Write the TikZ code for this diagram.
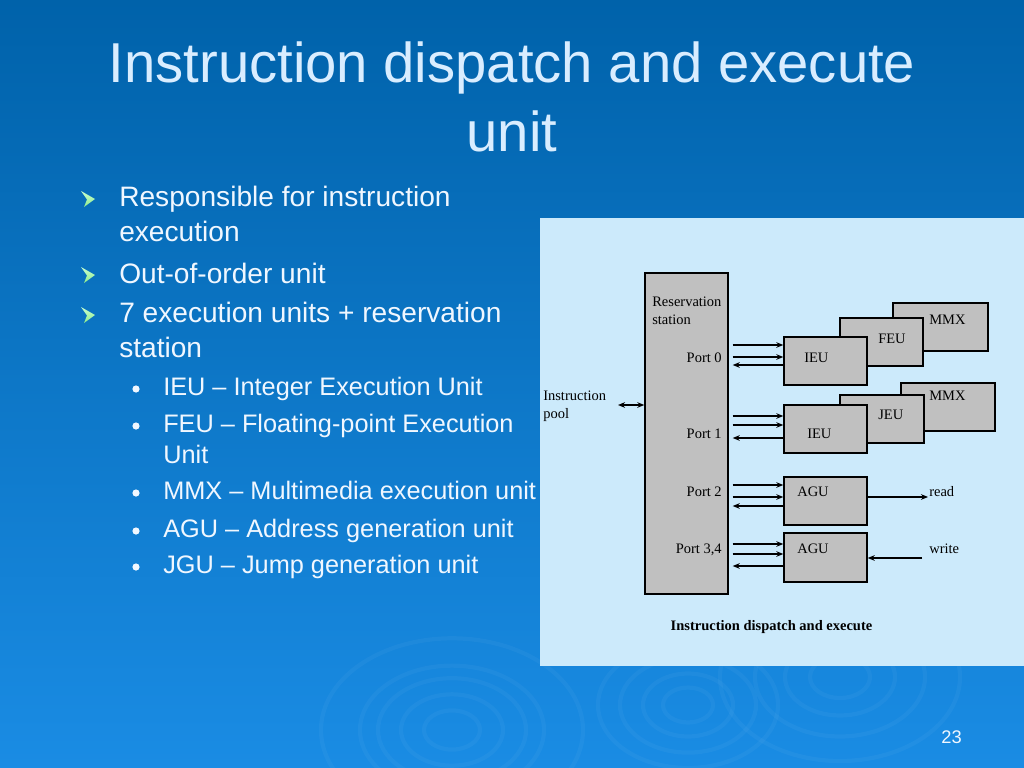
\documentclass[tikz,border=0pt]{standalone}
\usepackage{fontspec}
\setmainfont{Liberation Serif}
\newfontfamily\slidefont{Liberation Sans}
\usepackage{tikz}
\usetikzlibrary{arrows.meta, calc, positioning}
\usepackage{xcolor}
\definecolor{slidetop}{HTML}{0062AA}
\definecolor{slidebottom}{HTML}{1A8CE4}
\definecolor{panelblue}{HTML}{CCEAFB}
\definecolor{unitgrey}{HTML}{C0C0C0}
\definecolor{titleblue}{HTML}{D9EDFF}
\definecolor{bullettext}{HTML}{F0F7FF}
\definecolor{bulletgreen}{HTML}{8FEB8A}
\definecolor{bulletlight}{HTML}{C8FFD0}

\begin{document}
\begin{tikzpicture}[x=0.025cm, y=-0.025cm]
        \tikzstyle{unit}=[draw, fill=unitgrey, line width=1pt, minimum width=2.075cm, minimum height=1.2cm, inner sep=0pt]
        \tikzstyle{lbl}=[font=\fontsize{10.3}{12.8}\selectfont, inner sep=0pt, anchor=base west]
        \tikzstyle{arrow}=[-{Stealth[length=5pt,width=4pt]}, line width=1pt]
        \tikzstyle{item}=[font=\slidefont\fontsize{20}{24.2}\selectfont, text=bullettext, inner sep=0pt, anchor=base west, align=left]
        \tikzstyle{subitem}=[font=\slidefont\fontsize{18}{22}\selectfont, text=bullettext, inner sep=0pt, anchor=base west, align=left]
        \tikzstyle{chevron}=[top color=bulletlight, bottom color=bulletgreen, draw=none]
        \tikzstyle{dot}=[circle, fill=bullettext, minimum size=0.18cm, inner sep=0pt]

        \useasboundingbox (0,0) rectangle (1024,768);
        \shade[top color=slidetop, bottom color=slidebottom] (0,0) rectangle (1024,768);

        % ripples
        \foreach \r in {28,51,74,92,131} {
            \draw[white, opacity=0.035, line width=3pt] (452,730) ellipse [x radius=\r, y radius=0.7*\r];
        }
        \foreach \r in {25,45,68,90} {
            \draw[white, opacity=0.035, line width=3pt] (688,705) ellipse [x radius=\r, y radius=0.7*\r];
        }
        \foreach \r in {30,55,85,120} {
            \draw[white, opacity=0.035, line width=3pt] (840,677) ellipse [x radius=\r, y radius=0.7*\r];
        }

        \node[font=\slidefont\fontsize{40}{48}\selectfont, text=titleblue, anchor=base] (title1) at (512,83) {Instruction dispatch and execute};
        \node[font=\slidefont\fontsize{40}{48}\selectfont, text=titleblue, anchor=base] (title2) at (512,151) {unit};

        % bullets (multi-line nodes sit on their last line)
        \foreach \yb in {207,283,323} {
            \shade[chevron] (81,{\yb-16}) -- (95,{\yb-8}) -- (84,\yb) -- (87,{\yb-7.5}) -- cycle;
        }
        \node[item] (i1) at (119,241) {Responsible for instruction\\execution};
        \node[item] (i2) at (119,283) {Out-of-order unit};
        \node[item] (i3) at (119,357) {7 execution units + reservation\\station};

        \node[dot] (d1) at (136,389) {};
        \node[dot] (d2) at (136,426) {};
        \node[dot] (d3) at (136,493) {};
        \node[dot] (d4) at (136,531) {};
        \node[dot] (d5) at (136,567) {};
        \node[subitem] (s1) at (163,395) {IEU – Integer Execution Unit};
        \node[subitem] (s2) at (163,463) {FEU – Floating-point Execution\\Unit};
        \node[subitem] (s3) at (163,499) {MMX – Multimedia execution unit};
        \node[subitem] (s4) at (163,537) {AGU – Address generation unit};
        \node[subitem] (s5) at (163,573) {JGU – Jump generation unit};

        \node[font=\slidefont\fontsize{13}{13}\selectfont, text=bullettext, inner sep=0pt, anchor=base east] (page) at (962,743) {23};

        % figure panel
        \node[fill=panelblue, minimum width=12.1cm, minimum height=11.2cm, inner sep=0pt] (panel) at (782,442) {};

        \node[unit, minimum height=8.025cm] (rs) at (686.5,433.5) {};
        \node[unit, minimum width=2.375cm] (mmxA) at (940.5,327) {};
        \node[unit] (feu) at (881.5,342) {};
        \node[unit] (ieuA) at (825.5,361) {};
        \node[unit, minimum width=2.35cm] (mmxB) at (948,407) {};
        \node[unit, minimum width=2.1cm] (jeu) at (882,419) {};
        \node[unit] (ieuB) at (825.5,429) {};
        \node[unit] (aguA) at (825.5,501) {};
        \node[unit, minimum height=1.225cm] (aguB) at (825.5,557.5) {};

        \node[lbl, align=left] (tRs) at (652,324) {Reservation\\station};
        \node[lbl, anchor=base east] (p0) at (722,362) {Port 0};
        \node[lbl, anchor=base east] (p1) at (722,438) {Port 1};
        \node[lbl, anchor=base east] (p2) at (722,496) {Port 2};
        \node[lbl, anchor=base east] (p34) at (722,553) {Port 3,4};
        \node[lbl] (tIeuA) at (804,362) {IEU};
        \node[lbl] (tFeu) at (878,343) {FEU};
        \node[lbl] (tMmxA) at (929,324) {MMX};
        \node[lbl] (tIeuB) at (807,438) {IEU};
        \node[lbl] (tJeu) at (878,419) {JEU};
        \node[lbl] (tMmxB) at (929,400) {MMX};
        \node[lbl] (tAguA) at (797,496) {AGU};
        \node[lbl] (tAguB) at (797,553) {AGU};
        \node[lbl] (tRead) at (929,496) {read};
        \node[lbl] (tWrite) at (929,553) {write};
        \node[lbl, align=left] (tPool) at (543,418) {Instruction\\pool};
        \node[lbl, anchor=base, font=\bfseries\fontsize{10.3}{12}\selectfont] (caption) at (771.5,630) {Instruction dispatch and execute};

        \coordinate (pool) at (618,405);
        \coordinate (rd) at (928,497);
        \coordinate (wr) at (922,558);

        \foreach \un/\ya/\yb/\yc in {ieuA/-16/-4/4, ieuB/-13/-4/9, aguA/-16/-4/5, aguB/-13.5/-3.5/8.5} {
            \draw[arrow] ($(rs.east |- \un.west)+(4,\ya)$) -- ($(\un.west)+(0,\ya)$);
            \draw[arrow] ($(rs.east |- \un.west)+(4,\yb)$) -- ($(\un.west)+(0,\yb)$);
            \draw[arrow] ($(\un.west)+(0,\yc)$) -- ($(rs.east |- \un.west)+(4,\yc)$);
        }
        \draw[arrow] (aguA.east |- rd) -- (rd);
        \draw[arrow] (wr) -- (aguB.east |- wr);
        \draw[{Stealth[length=5pt,width=4pt]}-{Stealth[length=5pt,width=4pt]}, line width=1pt] (pool) -- (rs.west |- pool);
\end{tikzpicture}
\end{document}
